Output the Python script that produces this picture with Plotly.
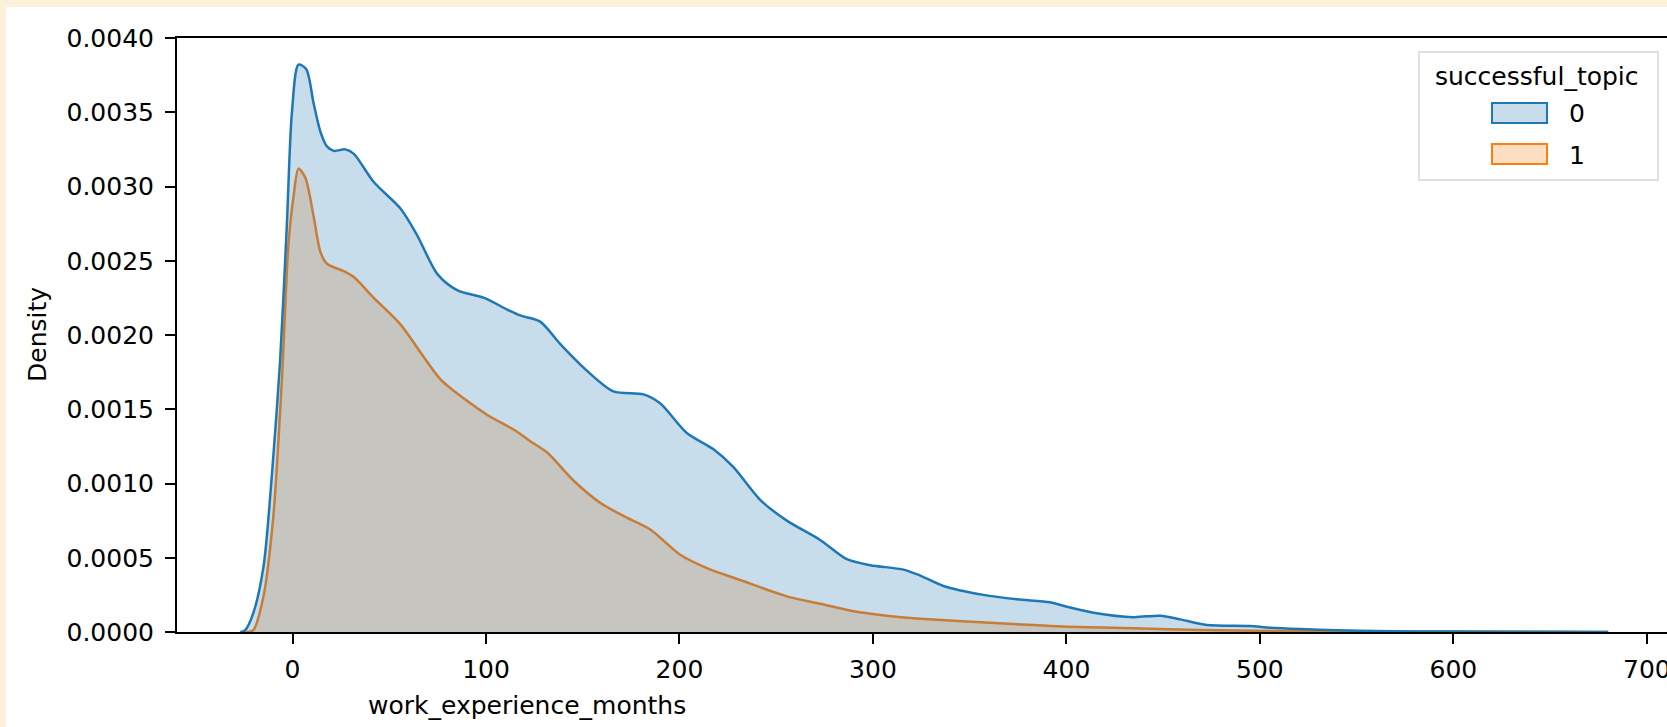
import plotly.graph_objects as go

# ---------------- data ----------------
blue_x = [-27, -24.6, -20.2, -15, -10.7, -6.4, -2.9, -0.3, 3.1, 7.1, 10.9, 14.4, 17.8, 21.3,
          27.3, 31.7, 42, 55.9, 64.5, 74.9, 85.3, 99, 111.2, 118, 128, 138.3, 152.1, 165.9,
          181.4, 190, 203.8, 217.6, 227.9, 241.7, 255.5, 272.7, 286.5, 298.6, 315.8, 324.4,
          336.4, 357.1, 374.4, 391.6, 400.2, 414, 434.6, 448.4, 458.8, 472.6, 494.9, 503.6,
          520.8, 540, 560, 600, 640, 680]
blue_y = [0, 0.00001, 0.00013, 0.00044, 0.00105, 0.00183, 0.00275, 0.00350, 0.00382, 0.00379,
          0.00356, 0.00337, 0.00327, 0.00324, 0.00325, 0.00322, 0.00303, 0.00285, 0.00267,
          0.00241, 0.00230, 0.00225, 0.00217, 0.00213, 0.00209, 0.00194, 0.00176, 0.00162,
          0.00160, 0.00154, 0.00134, 0.00123, 0.00111, 0.00089, 0.00075, 0.00062, 0.00049,
          0.00045, 0.00042, 0.00038, 0.00031, 0.00025, 0.00022, 0.00020, 0.00017, 0.00013,
          0.00010, 0.00011, 0.000085, 0.000047, 0.00004, 0.00003, 0.00002, 0.000012,
          0.000006, 0.000003, 0.000002, 0]

orange_x = [-24, -20.2, -15, -9.9, -5.5, -2.1, 0.5, 3.1, 6.6, 10.9, 14.4, 17.8, 26.5, 31.7,
            42, 55.9, 66.3, 76.6, 88.8, 100.9, 114.7, 123.4, 131.5, 145.2, 159, 172.8, 184.9,
            200.4, 214.2, 231.4, 255.5, 272.7, 289.9, 307.2, 324.4, 348.5, 383, 400, 434.6,
            469, 520, 600, 650, 680]
orange_y = [0, 0.000013, 0.00024, 0.00078, 0.00170, 0.00261, 0.00293, 0.00312, 0.00306,
            0.00280, 0.00256, 0.00248, 0.00243, 0.00239, 0.00225, 0.00207, 0.00188, 0.00170,
            0.00157, 0.00146, 0.00136, 0.00128, 0.00121, 0.00102, 0.00087, 0.00077, 0.00069,
            0.00052, 0.00043, 0.00035, 0.00024, 0.00019, 0.00014, 0.00011, 0.00009, 0.00007,
            0.000047, 0.000036, 0.000025, 0.000013, 0.000006, 0.000003, 0.000002, 0]

x_ticks = [0, 100, 200, 300, 400, 500, 600, 700]
y_ticks = [0.0, 0.0005, 0.0010, 0.0015, 0.0020, 0.0025, 0.0030, 0.0035, 0.0040]
y_tick_labels = ["0.0000", "0.0005", "0.0010", "0.0015", "0.0020", "0.0025", "0.0030",
                 "0.0035", "0.0040"]
legend_title = "successful_topic"
series_names = ["0", "1"]

# ---------------- layout helpers ----------------
W, H = 1667, 727
ML, MR, MT, MB = 177, 0, 38, 95
PW, PH = W - ML - MR, H - MT - MB


def px_x(p):
    return (p - ML) / PW


def px_y(p):
    return (H - MB - p) / PH


BLUE = "#1f77b4"
ORANGE = "#ff7f0e"
BLUE_FILL = "rgba(31,119,180,0.25)"
ORANGE_FILL = "rgba(255,127,14,0.25)"
CREAM = "#fdf2d9"
FONT = dict(family="DejaVu Sans", size=25, color="black")

fig = go.Figure()
# orange drawn first, blue on top (as seaborn does)
fig.add_trace(go.Scatter(x=orange_x, y=orange_y, mode="lines", name=series_names[1],
                         line=dict(color=ORANGE, width=2.5, shape="spline", smoothing=0.8),
                         fill="tozeroy", fillcolor=ORANGE_FILL, showlegend=False))
fig.add_trace(go.Scatter(x=blue_x, y=blue_y, mode="lines", name=series_names[0],
                         line=dict(color=BLUE, width=2.5, shape="spline", smoothing=0.8),
                         fill="tozeroy", fillcolor=BLUE_FILL, showlegend=False))

shapes = [
    # cream strips on the top and left edges of the page
    dict(type="rect", xref="paper", yref="paper", x0=px_x(0), x1=px_x(W), y0=px_y(7), y1=px_y(0),
         fillcolor=CREAM, line=dict(width=0), layer="below"),
    dict(type="rect", xref="paper", yref="paper", x0=px_x(0), x1=px_x(6), y0=px_y(H), y1=px_y(0),
         fillcolor=CREAM, line=dict(width=0), layer="below"),
    # legend frame
    dict(type="rect", xref="paper", yref="paper", x0=px_x(1419), x1=px_x(1658),
         y0=px_y(180), y1=px_y(52), fillcolor="rgba(255,255,255,0.8)",
         line=dict(color="#d6d6d6", width=1.5), layer="above"),
    # legend patches
    dict(type="rect", xref="paper", yref="paper", x0=px_x(1492), x1=px_x(1547),
         y0=px_y(123), y1=px_y(103), fillcolor=BLUE_FILL, line=dict(color=BLUE, width=2),
         layer="above"),
    dict(type="rect", xref="paper", yref="paper", x0=px_x(1492), x1=px_x(1547),
         y0=px_y(164), y1=px_y(144), fillcolor=ORANGE_FILL, line=dict(color=ORANGE, width=2),
         layer="above"),
]

annotations = [
    dict(text=legend_title, xref="paper", yref="paper", x=px_x(1537), y=px_y(76),
         xanchor="center", yanchor="middle", showarrow=False, font=FONT),
    dict(text=series_names[0], xref="paper", yref="paper", x=px_x(1567), y=px_y(114),
         xanchor="left", yanchor="middle", showarrow=False, font=FONT),
    dict(text=series_names[1], xref="paper", yref="paper", x=px_x(1567), y=px_y(155),
         xanchor="left", yanchor="middle", showarrow=False, font=FONT),
    dict(text="Density", xref="paper", yref="paper", x=px_x(37), y=px_y(335),
         xanchor="center", yanchor="middle", textangle=-90, showarrow=False, font=FONT),
    dict(text="work_experience_months", xref="paper", yref="paper", x=px_x(527), y=px_y(705),
         xanchor="center", yanchor="middle", showarrow=False, font=FONT),
]

fig.update_layout(
    width=W, height=H,
    margin=dict(l=ML, r=MR, t=MT, b=MB, pad=0),
    paper_bgcolor="white", plot_bgcolor="white",
    template="none",
    showlegend=False,
    shapes=shapes, annotations=annotations,
    font=FONT,
)
fig.update_xaxes(range=[-59.7, 710.4], tickmode="array", tickvals=x_ticks,
                 ticktext=[str(v) for v in x_ticks],
                 ticks="outside", ticklen=10, tickwidth=2, tickcolor="black",
                 showline=True, linecolor="black", linewidth=2, mirror=True,
                 showgrid=False, zeroline=False, tickfont=FONT, ticklabelstandoff=4,
                 ticklabeloverflow="allow")
fig.update_yaxes(range=[0, 0.004], tickmode="array", tickvals=y_ticks, ticktext=y_tick_labels,
                 ticks="outside", ticklen=10, tickwidth=2, tickcolor="black",
                 showline=True, linecolor="black", linewidth=2, mirror=False,
                 showgrid=False, zeroline=False, tickfont=FONT, ticklabelstandoff=6)

fig.write_html(
    "out.html",
    config={"displayModeBar": False},
    post_script="document.body.style.margin='0';document.body.style.overflow='hidden';",
)
